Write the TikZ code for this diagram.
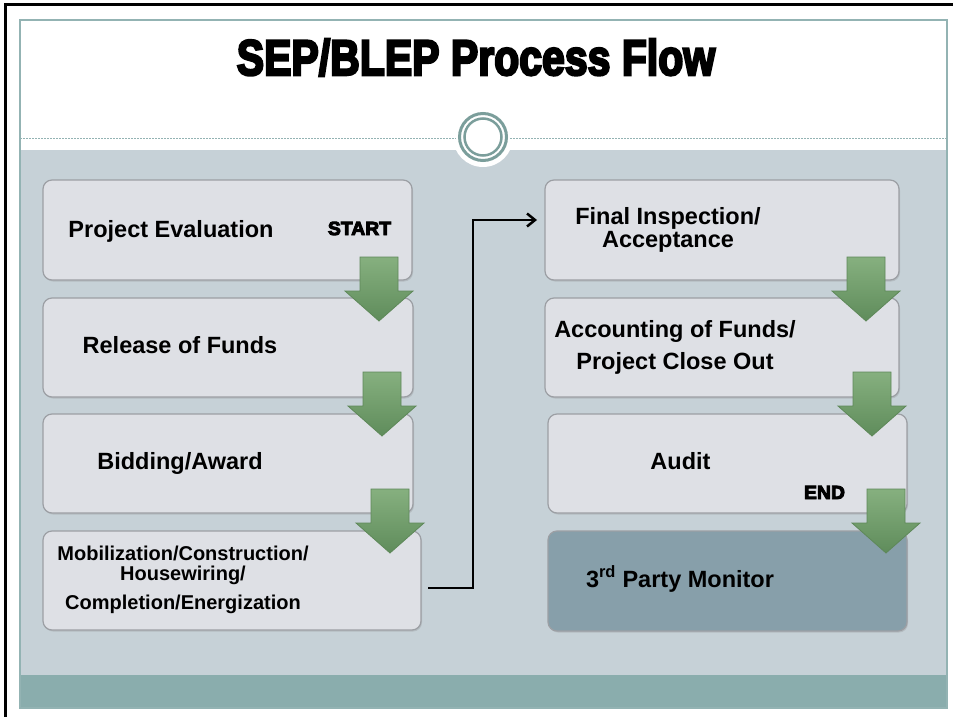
\documentclass[tikz,border=0pt]{standalone}
\usepackage{fontspec}
\setmainfont{Liberation Sans}
\newfontfamily\heavyfont{Liberation Sans Bold}[FakeBold=5]
\usetikzlibrary{arrows.meta,shadows}
\definecolor{contentbg}{HTML}{C6D1D7}
\definecolor{bandcol}{HTML}{8AADAD}
\definecolor{slideline}{HTML}{93B3B3}
\definecolor{boxfill}{HTML}{DEE0E5}
\definecolor{boxline}{HTML}{9C9FA4}
\definecolor{monitorfill}{HTML}{879FAA}
\definecolor{ringcol}{HTML}{7B9E9B}
\definecolor{arrowtop}{HTML}{86B07F}
\definecolor{arrowbot}{HTML}{5F8C5B}
\definecolor{arrowline}{HTML}{5E8859}
\begin{document}
\begin{tikzpicture}[x=1pt, y=-1pt, >={Straight Barb[length=8pt,width=13pt]},
	every node/.style={inner sep=0pt, outer sep=0pt},
	stepbox/.style={draw=boxline, line width=1.2pt, fill=boxfill, rounded corners=9pt,
		drop shadow={opacity=0.25, shadow xshift=1pt, shadow yshift=-1.5pt}},
	boxtext/.style={font=\bfseries\fontsize{23.5}{26}\selectfont, anchor=base},
	tagtext/.style={font=\heavyfont\fontsize{19}{21}\selectfont, anchor=base, xscale=1.02},
	greenarrow/.pic={
		\shade[top color=arrowtop, bottom color=arrowbot, draw=arrowline, line width=0.8pt]
		(-19,0) -- (19,0) -- (19,34) -- (34,34) -- (0,64) -- (-34,34) -- (-19,34) -- cycle;
	}]
	\useasboundingbox (0,0) rectangle (953,717);
	% slide background
	\fill[white] (0,0) rectangle (953,717);
	\fill[contentbg] (20,150) rectangle (947,675);
	\fill[bandcol] (20,675) rectangle (947,708);
	\draw[slideline, line width=1.5pt] (20,20) rectangle (947,708);
	\draw[black, line width=3pt] (5,717) -- (5,5) -- (953,5);
	% header ring
	\fill[white] (483,137) circle (30);
	\draw[slideline, dashed, dash pattern=on 2pt off 1pt] (20,138) -- (456,138);
	\draw[slideline, dashed, dash pattern=on 2pt off 1pt] (510,138) -- (947,138);
	\draw[ringcol, line width=3pt] (483,137) circle (23.5);
	\draw[ringcol, line width=2.5pt] (483,137) circle (18.5);
	\node[font=\heavyfont\fontsize{50}{53}\selectfont, anchor=base, xscale=0.82]
		(title) at (476,75) {SEP/BLEP Process Flow};

	% left column
	\node[stepbox, minimum width=369pt, minimum height=100pt] (eval) at (227.5,230) {};
	\node[stepbox, minimum width=370pt, minimum height=99pt] (release) at (228,347.5) {};
	\node[stepbox, minimum width=370pt, minimum height=99pt] (bidding) at (228,463.5) {};
	\node[stepbox, minimum width=378pt, minimum height=99pt] (mobil) at (232,580.5) {};
	% right column
	\node[stepbox, minimum width=354pt, minimum height=100pt] (inspect) at (722,230) {};
	\node[stepbox, minimum width=354pt, minimum height=99pt] (account) at (722,347.5) {};
	\node[stepbox, minimum width=359pt, minimum height=99pt] (audit) at (727.5,463.5) {};
	\node[stepbox, fill=monitorfill, minimum width=359pt, minimum height=100pt]
		(monitor) at (727.5,581) {};

	\node[boxtext] (t-eval) at (171,237) {Project Evaluation};
	\node[tagtext] (t-start) at (359.5,235) {START};
	\node[boxtext] (t-release) at (180,353) {Release of Funds};
	\node[boxtext] (t-bidding) at (180,469) {Bidding/Award};
	\node[boxtext, font=\bfseries\fontsize{20}{22}\selectfont] (t-mobil1) at (183,560)
		{Mobilization/Construction/};
	\node[boxtext, font=\bfseries\fontsize{20}{22}\selectfont] (t-mobil2) at (183,580)
		{Housewiring/};
	\node[boxtext, font=\bfseries\fontsize{20}{22}\selectfont] (t-mobil3) at (183,609)
		{Completion/Energization};
	\node[boxtext] (t-inspect1) at (668,224) {Final Inspection/};
	\node[boxtext] (t-inspect2) at (668,247) {Acceptance};
	\node[boxtext] (t-account1) at (675,337) {Accounting of Funds/};
	\node[boxtext] (t-account2) at (675,369) {Project Close Out};
	\node[boxtext] (t-audit) at (680.5,469) {Audit};
	\node[tagtext] (t-end) at (824.5,499) {END};
	\node[boxtext] (t-monitor) at (680,587) {3\textsuperscript{rd} Party Monitor};

	% green step arrows
	\pic at (379,257) {greenarrow};
	\pic at (382,372) {greenarrow};
	\pic at (390,489) {greenarrow};
	\pic at (866,257) {greenarrow};
	\pic at (872,372) {greenarrow};
	\pic at (886,489) {greenarrow};

	% link between the columns
	\coordinate (bend) at (473,220);
	\draw[->, line width=2.5pt] ([xshift=7pt, yshift=-7.5pt]mobil.east) -| (bend)
		-- ([xshift=-8pt, yshift=10pt]inspect.west);
\end{tikzpicture}
\end{document}
